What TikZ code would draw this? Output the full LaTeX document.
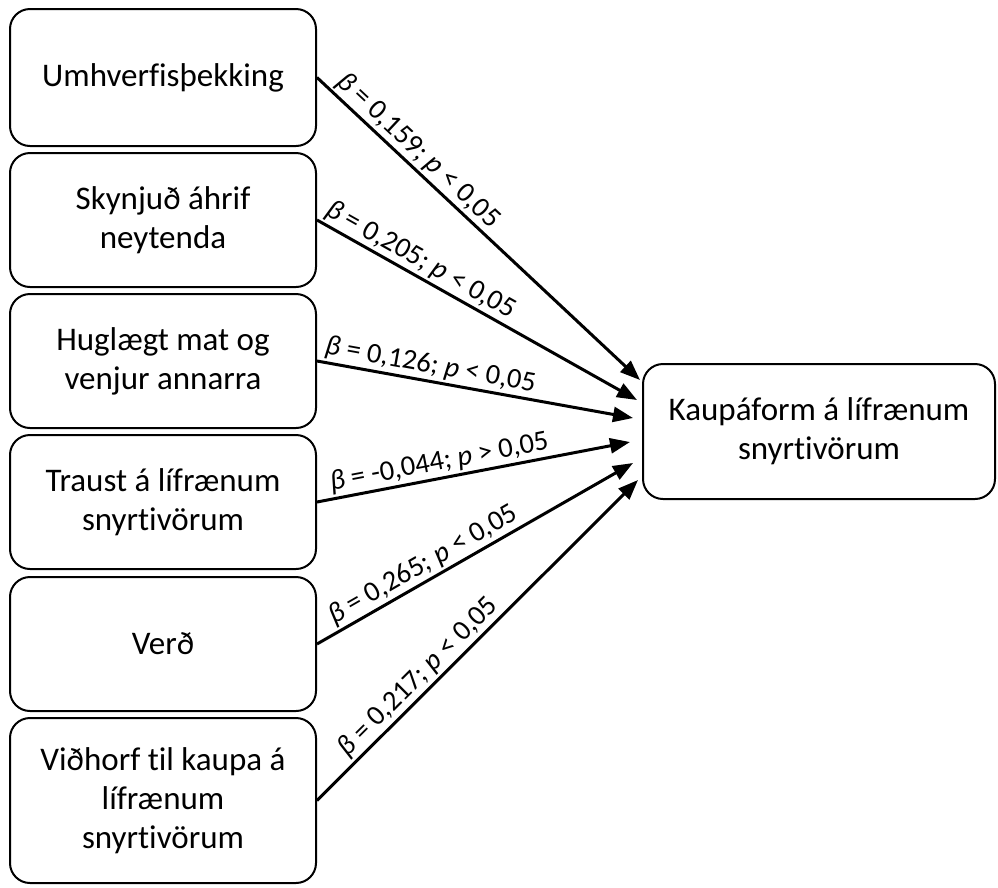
\documentclass[tikz,border=0pt]{standalone}
\usepackage{fontspec}
\setmainfont{Carlito}[Ligatures=NoCommon]
\usetikzlibrary{arrows.meta}
\begin{document}
\begin{tikzpicture}[x=1pt,y=-1pt,
  box/.style={draw, line width=2pt, rounded corners=20pt, minimum width=306pt, align=center, font=\fontsize{33}{39}\selectfont, inner sep=0pt},
  arr/.style={line width=3pt, -{Triangle[length=20pt,width=15pt]}},
  lab/.style={sloped, above, font=\fontsize{28.5}{32}\selectfont, inner sep=2pt}]
\useasboundingbox (0,0) rectangle (998,887);

\node[box, minimum height=137pt] (b1) at (163,77.5) {Umhverfisþekking};
\node[box, minimum height=134pt] (b2) at (163,220) {Skynjuð áhrif\\neytenda};
\node[box, minimum height=134pt] (b3) at (163,361) {Huglægt mat og\\venjur annarra};
\node[box, minimum height=134pt] (b4) at (163,502) {Traust á lífrænum\\snyrtivörum};
\node[box, minimum height=134pt] (b5) at (163,644) {Verð};
\node[box, minimum height=165pt] (b6) at (163,800.5) {Viðhorf til kaupa á\\lífrænum\\snyrtivörum};
\node[box, minimum width=352pt, minimum height=135pt] (k) at (819,431.5) {Kaupáform á lífrænum\\snyrtivörum};

\coordinate (t1) at (640,380);
\coordinate (t2) at (637,400);
\coordinate (t3) at (633,418);
\coordinate (t4) at (630,442);
\coordinate (t5) at (633,463);
\coordinate (t6) at (638,480);

\draw[arr] (b1.east) -- node[lab, pos=0.28] {{\itshape β} = 0,159; {\itshape p} < 0,05} (t1);
\draw[arr] (b2.east) -- node[lab, pos=0.30] {{\itshape β} = 0,205; {\itshape p} < 0,05} (t2);
\draw[arr] (b3.east) -- node[lab, pos=0.35] {{\itshape β} = 0,126; {\itshape p} < 0,05} (t3);
\draw[arr] (b4.east) -- node[lab, pos=0.40] {{\itshape β} = -0,044; {\itshape p} > 0,05} (t4);
\draw[arr] (b5.east) -- node[lab, pos=0.36] {{\itshape β} = 0,265; {\itshape p} < 0,05} (t5);
\draw[arr] (b6.east) -- node[lab, pos=0.35] {{\itshape β} = 0,217; {\itshape p} < 0,05} (t6);
\end{tikzpicture}
\end{document}
